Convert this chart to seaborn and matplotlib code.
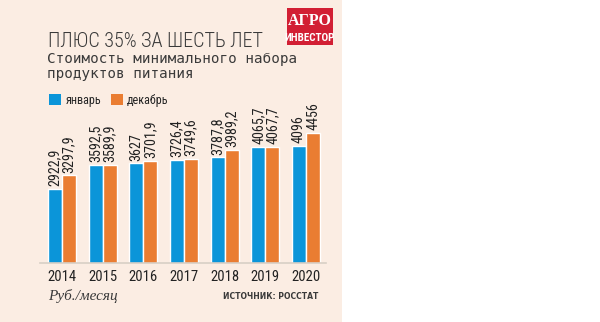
import matplotlib
matplotlib.use("Agg")
import matplotlib.pyplot as plt
import matplotlib.patches as mpatches
import seaborn as sns
import pandas as pd

years = ["2014", "2015", "2016", "2017", "2018", "2019", "2020"]
january = [2922.9, 3592.5, 3627, 3726.4, 3787.8, 4065.7, 4096]
december = [3297.9, 3589.9, 3701.9, 3749.6, 3989.2, 4067.7, 4456]
series_names = ["январь", "декабрь"]

title = "ПЛЮС 35% ЗА ШЕСТЬ ЛЕТ"
subtitle1 = "Стоимость минимального набора"
subtitle2 = "продуктов питания"
unit_note = "Руб./месяц"
source_note = "ИСТОЧНИК: РОССТАТ"

BLUE = "#0b95d9"
ORANGE = "#ea7d32"
CREAM = "#fbede3"
RED = "#d21f34"
TEXT = "#3a3a3a"
NARROW = ["Roboto Condensed", "DejaVu Sans Condensed", "Liberation Sans Narrow", "Roboto"]

df = pd.DataFrame({
    "year": years * 2,
    "value": january + december,
    "series": [series_names[0]] * len(years) + [series_names[1]] * len(years),
})

sns.set_theme(style="white")
plt.rcParams["font.family"] = ["DejaVu Sans"]

fig = plt.figure(figsize=(6.0, 3.22), dpi=100, facecolor="white")
fig.patches.append(mpatches.Rectangle((0, 0), 342 / 600, 1, transform=fig.transFigure,
                                      facecolor=CREAM, edgecolor="none", zorder=-10))

W, H = 600, 322
left, right = 40 / W, 326 / W
bottom, top = 1 - 263 / H, 1 - 80 / H
ax = fig.add_axes([left, bottom, right - left, top - bottom])
ax.set_facecolor("none")
ax.set_zorder(5)

sns.barplot(data=df, x="year", y="value", hue="series", hue_order=series_names,
            palette=[BLUE, ORANGE], width=0.69, saturation=1, ax=ax, legend=False)

ax.set_xlim(-0.54, 6.49)
ax.set_ylim(897, 5907)


def fmt(v):
    if float(v).is_integer():
        return str(int(v))
    return ("%.1f" % v).replace(".", ",")


for cont, vals in zip(ax.containers, [january, december]):
    ax.bar_label(cont, labels=[fmt(v) for v in vals], rotation=90, padding=2,
                 fontsize=10.2, color="#222222", family=NARROW, stretch="condensed")

for s in ["top", "left", "right"]:
    ax.spines[s].set_visible(False)
ax.spines["bottom"].set_color("#d8cfc6")
ax.spines["bottom"].set_linewidth(1.2)
ax.set_yticks([])
ax.set_xlabel("")
ax.set_ylabel("")
ax.tick_params(axis="x", length=0, pad=5, labelsize=10.5, labelcolor="#222222")
for lbl in ax.get_xticklabels():
    lbl.set_family(NARROW)
    lbl.set_stretch("condensed")

# titles
fig.text(48 / W, 1 - 47 / H, title, fontsize=14.5, color=TEXT, family=NARROW,
         stretch="condensed", fontweight="light", va="baseline")
fig.text(47 / W, 1 - 63 / H, subtitle1, fontsize=10.3, color=TEXT, va="baseline",
         family=["DejaVu Sans Mono"])
fig.text(47 / W, 1 - 78 / H, subtitle2, fontsize=10.3, color=TEXT, va="baseline",
         family=["DejaVu Sans Mono"])

# legend
handles = [mpatches.Patch(facecolor=BLUE, edgecolor="none"),
           mpatches.Patch(facecolor=ORANGE, edgecolor="none")]
leg = fig.legend(handles, series_names, loc="upper left", bbox_to_anchor=(49 / W, 1 - 94 / H),
                 ncol=2, frameon=False, handlelength=1.0, handleheight=1.0,
                 handletextpad=0.35, columnspacing=0.8, borderaxespad=0, borderpad=0,
                 prop={"family": NARROW, "size": 8.7, "stretch": "condensed"})

# logo
fig.patches.append(mpatches.Rectangle((287 / W, 1 - 45 / H), 46 / W, 37 / H,
                                      transform=fig.transFigure, facecolor=RED,
                                      edgecolor="none", zorder=1))
fig.text(310 / W, 1 - 25 / H, "АГРО", fontsize=11.5, color="white", ha="center",
         va="baseline", family=["Liberation Serif", "DejaVu Serif"], fontweight="bold")
fig.text(310 / W, 1 - 41 / H, "ИНВЕСТОР", fontsize=8.0, color="white", ha="center",
         va="baseline", family=NARROW, stretch="condensed", fontweight="bold")

# notes
fig.text(48 / W, 1 - 300 / H, unit_note, fontsize=11, color=TEXT, va="baseline",
         family=["Liberation Serif", "DejaVu Serif"], style="italic")
fig.text(318 / W, 1 - 299 / H, source_note, fontsize=5.5, color=TEXT, va="baseline",
         ha="right", fontweight="bold")

fig.savefig("out.png", dpi=100, facecolor="white")
